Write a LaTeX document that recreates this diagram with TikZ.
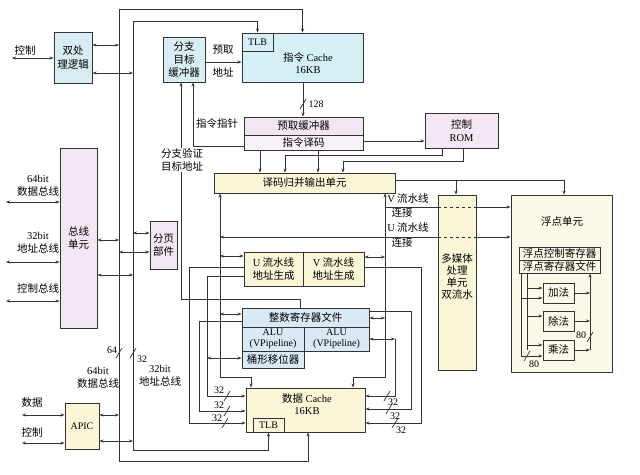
\documentclass[tikz,border=0pt]{standalone}
\usepackage{fontspec}
\setmainfont{Liberation Serif}
\newfontfamily\cjk{Noto Sans CJK SC}
\usetikzlibrary{arrows.meta,calc}
\definecolor{lc}{HTML}{333333}
\definecolor{cblue}{HTML}{D8ECF3}
\definecolor{ccyan}{HTML}{D4EFF6}
\definecolor{clav}{HTML}{F2E6F2}
\definecolor{clav2}{HTML}{F8F1F7}
\definecolor{cyel}{HTML}{F9F5D6}
\definecolor{cyel2}{HTML}{FBF9E8}
\definecolor{cibl}{HTML}{D9E9F6}
\newcommand\latn[1]{{\rmfamily #1}}
\newcommand\sls[1]{\draw[ln,shift={(#1)}] (-3,5) -- (3,-5);}
\begin{document}
\begin{tikzpicture}[x=1pt,y=-1pt,
  ln/.style={draw=lc,line width=0.7pt},
  blk/.style={draw=lc,line width=0.9pt,inner sep=0pt,align=center,font=\cjk\fontsize{10.5}{13.5}\selectfont},
  lbl/.style={inner sep=0.5pt,align=center,font=\cjk\fontsize{10.5}{12.5}\selectfont},
  num/.style={inner sep=0.5pt,font=\rmfamily\fontsize{10}{11}\selectfont},
  arr/.style={-{Stealth[length=4pt,width=3pt]}},
  rarr/.style={{Stealth[length=4pt,width=3pt]}-},
  darr/.style={{Stealth[length=4pt,width=3pt]}-{Stealth[length=4pt,width=3pt]}}]
\useasboundingbox[fill=white] (0,0) rectangle (640,474);

% ---------- boxes ----------
\node[blk,fill=cblue,minimum width=38,minimum height=51] (dual) at (73,57.5) {双处\\理逻辑};
\node[blk,fill=clav,minimum width=37,minimum height=180] (bu) at (78.5,238) {总线\\单元};
\node[blk,fill=clav,minimum width=27,minimum height=48] (pg) at (163.5,245) {分页\\部件};
\node[blk,fill=cblue,minimum width=42,minimum height=45,font=\cjk\fontsize{10.5}{13}\selectfont] (btb) at (184,59.5) {分支\\目标\\缓冲器};
\node[blk,fill=ccyan,minimum width=121,minimum height=49] (ic) at (302.5,57.5) {};
\node[blk,fill=ccyan,minimum width=31,minimum height=18,font=\rmfamily\fontsize{10}{11}\selectfont] (itlb) at (257.5,42) {TLB};
\node[lbl] (ictext) at (308,63) {指令 \latn{Cache}\\\latn{16KB}};
\node[blk,fill=clav,minimum width=119,minimum height=18] (pf) at (303.5,126) {预取缓冲器};
\node[blk,fill=clav2,minimum width=119,minimum height=15] (dec) at (303.5,142.5) {指令译码};
\node[blk,fill=clav,minimum width=73,minimum height=35] (rom) at (461.5,130.5) {控制\\\latn{ROM}};
\node[blk,fill=cyel,minimum width=181,minimum height=20] (merge) at (304.5,183) {译码归并输出单元};
\node[blk,fill=cyel,minimum width=38,minimum height=175] (mm) at (457,282.5) {};
\node[lbl,font=\cjk\fontsize{10.5}{12}\selectfont] (mmtext) at (457,277) {多媒体\\处理\\单元\\双流水};
\node[blk,fill=cyel2,minimum width=101,minimum height=177] (fpu) at (561.5,283.5) {};
\node[lbl] (fputext) at (562,222) {浮点单元};
\node[blk,fill=cyel2,minimum width=81,minimum height=13] (fpctl) at (559.5,253.5) {浮点控制寄存器};
\node[blk,fill=cyel2,minimum width=81,minimum height=13] (fpreg) at (559.5,266.5) {浮点寄存器文件};
\node[blk,fill=cyel2,minimum width=31,minimum height=20] (fadd) at (558.5,293) {加法};
\node[blk,fill=cyel2,minimum width=31,minimum height=20] (fdiv) at (558.5,321) {除法};
\node[blk,fill=cyel2,minimum width=31,minimum height=20] (fmul) at (558.5,350) {乘法};
\node[blk,fill=cyel,minimum width=59,minimum height=34] (uag) at (273.5,269) {\latn{U} 流水线\\地址生成};
\node[blk,fill=cyel,minimum width=61,minimum height=34] (vag) at (333.5,269) {\latn{V} 流水线\\地址生成};
\node[blk,fill=cibl,minimum width=127,minimum height=19] (ireg) at (305.5,317.5) {整数寄存器文件};
\node[blk,fill=cibl,minimum width=62,minimum height=24,font=\rmfamily\fontsize{10}{11}\selectfont] (alu1) at (273,339) {ALU\\(VPipeline)};
\node[blk,fill=cibl,minimum width=65,minimum height=24,font=\rmfamily\fontsize{10}{11}\selectfont] (alu2) at (336.5,339) {ALU\\(VPipeline)};
\node[blk,fill=cibl,minimum width=62,minimum height=17] (shift) at (273,359.5) {桶形移位器};
\node[blk,fill=cyel,minimum width=119,minimum height=44] (dc) at (305.5,410) {};
\node[lbl] (dctext) at (307,404) {数据 \latn{Cache}\\\latn{16KB}};
\node[blk,fill=cyel,minimum width=31,minimum height=14,font=\rmfamily\fontsize{10}{11}\selectfont] (dtlb) at (268.5,425) {TLB};
\node[blk,fill=cyel,minimum width=34,minimum height=46,font=\rmfamily\fontsize{10}{11}\selectfont] (apic) at (82,426) {APIC};

% ---------- labels ----------
\node[lbl] (l1) at (25,50) {控制};
\node[lbl] (l2) at (38,186) {\latn{64bit}\\数据总线};
\node[lbl] (l3) at (38,243) {\latn{32bit}\\地址总线};
\node[lbl] (l4) at (38,288) {控制总线};
\node[lbl] (l5) at (32,403) {数据};
\node[lbl] (l6) at (32,432) {控制};
\node[lbl] (l7) at (98,378) {\latn{64bit}\\数据总线};
\node[lbl] (l8) at (160,376) {\latn{32bit}\\地址总线};
\node[num] (l9) at (112,350) {64};
\node[num] (l10) at (142,359) {32};
\node[lbl] (l11) at (223,50) {预取};
\node[lbl] (l12) at (223,72) {地址};
\node[num] (l13) at (316,104) {128};
\node[lbl] (l14) at (217,124) {指令指针};
\node[lbl] (l16) at (408,199) {\latn{V} 流水线};
\node[lbl] (l17) at (402,213) {连接};
\node[lbl] (l18) at (408,228) {\latn{U} 流水线};
\node[lbl] (l19) at (402,243) {连接};

% ---------- external buses ----------
\coordinate (ot) at (119,9);
\coordinate (ob) at (119,461);
\coordinate (it) at (133,21);
\coordinate (ib) at (133,450);
\draw[ln,arr] (ob) -- (ot) -| (ic.north);
\draw[ln,arr] (ib) -- (it) -| (itlb.north);
\draw[ln,arr] (ob) -| (dc.south -| 308,0);
\draw[ln,arr] (ib) -| (dtlb.south);
\sls{119,353}
\sls{133,353}

\coordinate (c1) at (12,58);
\draw[ln,darr] (c1) -- (dual.west |- c1);
\draw[ln,darr] (dual.east |- 0,45) -- (ot |- 0,45);
\draw[ln,darr] (dual.east |- 0,73) -- (it |- 0,73);

\coordinate (c2) at (6,202);
\coordinate (c3) at (6,262);
\coordinate (c4) at (6,301);
\draw[ln,darr] (c2) -- (bu.west |- c2);
\draw[ln,darr] (c3) -- (bu.west |- c3);
\draw[ln,darr] (c4) -- (bu.west |- c4);
\draw[ln,darr] (bu.east |- 0,240) -- (ot |- 0,240);
\draw[ln,darr] (bu.east |- 0,275) -- (it |- 0,275);
\draw[ln,darr] (it |- 0,233) -- (pg.west |- 0,233);
\draw[ln,darr] (ot |- 0,252) -- (pg.west |- 0,252);

\coordinate (c5) at (22,415);
\coordinate (c6) at (22,443);
\draw[ln,darr] (c5) -- (apic.west |- c5);
\draw[ln,darr] (c6) -- (apic.west |- c6);
\draw[ln,darr] (apic.east |- 0,415) -- (ot |- 0,415);
\draw[ln,darr] (apic.east |- 0,441) -- (it |- 0,441);

% ---------- front end ----------
\draw[ln,arr] (btb.east |- 0,62) -- (ic.west |- 0,62);
\draw[ln,arr] (ic.south -| 303,0) -- (pf.north -| 303,0);
\sls{303,104}
\draw[ln,arr] (dec.east |- 0,141) -- (rom.west |- 0,141);
\draw[ln,arr] (dec.south -| 260,0) -- (merge.north -| 260,0);
\draw[ln,arr] (dec.south -| 318,0) -- (merge.north -| 318,0);
\draw[ln,arr] (rom.south -| 442,0) |- (285,155) -- (merge.north -| 285,0);
\draw[ln,arr] (rom.south -| 463,0) |- (343,161) -- (merge.north -| 343,0);
\draw[ln,arr] (dec.west |- 0,146) -| (btb.south -| 193,0);
\draw[ln,arr] (ireg.north -| 300,0) |- (181,299) -- (btb.south -| 181,0);
\node[lbl,fill=white] (l15) at (182,160) {分支验证\\目标地址};

\draw[ln] (merge.east |- 0,180) -- (564,180);
\draw[ln,arr] (456,180) -- (mm.north -| 456,0);
\draw[ln,arr] (564,180) -- (fpu.north -| 564,0);

% ---------- internal buses ----------
\draw[ln,darr] (merge.south -| 220,0) |- (251,377) -- (dc.north -| 251,0);
\draw[ln,darr] (merge.south -| 385,0) |- (353,377) -- (dc.north -| 353,0);

\draw[ln] (385,207) -- (mm.west |- 0,207);
\draw[ln,dashed] (mm.west |- 0,207) -- (mm.east |- 0,207);
\draw[ln,arr] (mm.east |- 0,207) -- (fpu.west |- 0,207);
\draw[ln,rarr] (220,237) -- (mm.west |- 0,237);
\draw[ln,dashed] (mm.west |- 0,237) -- (mm.east |- 0,237);
\draw[ln,arr] (mm.east |- 0,237) -- (fpu.west |- 0,237);

% left side
\draw[ln,darr] (220,256) -- (uag.west |- 0,256);
\draw[ln,arr] (uag.west |- 0,267) -| (189,423) -- (dc.west |- 0,423);
\draw[ln,darr] (220,314) -- (ireg.west |- 0,314);
\draw[ln,arr] (ireg.west |- 0,321) -| (199,411) -- (dc.west |- 0,411);
\draw[ln,darr] (207,358) -- (shift.west |- 0,358);
\draw[ln,arr] (uag.west |- 0,276) -| (207,396) -- (dc.west |- 0,396);
\sls{227,396}
\sls{227,411}
\sls{225,423}
\node[num] (s1) at (219,390) {32};
\node[num] (s2) at (219,405) {32};
\node[num] (s3) at (217,418) {32};

% right side
\draw[ln,darr] (vag.east |- 0,257) -- (385,257);
\draw[ln,arr] (vag.east |- 0,267) -| (421,423) -- (dc.east |- 0,423);
\draw[ln,arr] (ireg.east |- 0,311) -| (411,409) -- (dc.east |- 0,409);
\draw[ln,darr] (ireg.east |- 0,318) -- (385,318);
\draw[ln,darr] (alu2.east |- 0,339) -- (395,339);
\draw[ln,arr] (395,339) |- (dc.east |- 0,396);
\sls{387,396}
\sls{389,409}
\sls{395,423}
\node[num] (s4) at (393,402) {32};
\node[num] (s5) at (395,416) {32};
\node[num] (s6) at (401,430) {32};

% ---------- FPU internals ----------
\draw[ln] (fpreg.south -| 521,0) -- (521,356);
\draw[ln] (fpreg.south -| 527,0) -- (527,350);
\draw[ln,arr] (527,288) -- (fadd.west |- 0,288);
\draw[ln,arr] (521,298) -- (fadd.west |- 0,298);
\draw[ln,arr] (527,316) -- (fdiv.west |- 0,316);
\draw[ln,arr] (527,345) -- (fmul.west |- 0,345);
\draw[ln,arr] (521,356) -- (fmul.west |- 0,356);
\draw[ln,arr] (fadd.east) -- (590,293);
\draw[ln,arr] (fdiv.east) -- (590,321);
\draw[ln,arr] (fmul.east) -- (590,350);
\draw[ln,arr] (590,350) -- (fpreg.south -| 590,0);
\sls{590,337}
\sls{527,356}
\node[num] (s7) at (581,335) {80};
\node[num] (s8) at (534,364) {80};
\end{tikzpicture}
\end{document}
